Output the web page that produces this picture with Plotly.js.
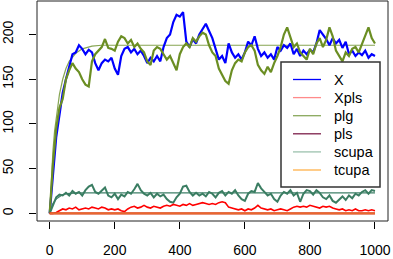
<!DOCTYPE html>
<html><head><meta charset="utf-8">
<script src="https://cdn.plot.ly/plotly-3.0.1.min.js"></script>
<style>html,body{margin:0;padding:0;background:#fff}#c{width:393px;height:259px}</style>
</head><body><div id="c"></div>
<script>
// time steps (sampled every 10)
const steps = [];
for (let i = 0; i <= 100; i++) steps.push(i * 10);

const X = [0,45,85,110,135,150,165,178,180,188,
 184,178,183,180,168,160,168,172,170,174,
 162,155,176,184,186,180,184,178,182,176,
 168,174,170,176,170,186,196,200,214,222,
 220,225,192,186,195,190,200,206,212,204,
 196,184,172,176,168,190,180,174,178,172,
 180,192,188,198,184,176,180,174,178,172,
 186,182,188,185,190,178,184,176,182,178,
 183,180,190,205,200,195,188,196,190,194,
 185,192,178,182,176,180,177,182,174,178,176];

const plg = [0,55,95,118,128,150,160,168,162,158,
 150,144,142,170,178,182,186,195,185,184,
 182,192,198,196,190,194,186,190,184,180,
 170,166,182,186,184,178,172,176,168,160,
 178,186,190,186,196,192,198,202,200,188,
 180,176,162,155,148,145,160,168,172,170,
 180,186,188,182,166,160,156,164,158,168,
 176,186,200,208,196,186,190,180,176,172,
 184,178,190,196,186,194,208,198,182,176,
 170,180,176,184,186,180,190,198,208,196,190];

const scupa = [0,10,18,21,20,23,20,25,22,24,
 20,26,30,32,24,22,26,29,20,18,
 22,16,21,19,24,22,27,33,26,22,
 20,23,18,22,19,21,16,13,12,18,
 22,30,31,24,20,23,20,22,19,24,
 22,18,23,25,20,24,22,26,20,16,
 14,22,25,24,34,28,24,20,22,16,
 13,20,24,22,26,20,23,13,22,26,
 25,21,26,23,18,16,20,14,12,16,
 19,15,20,17,22,20,24,26,22,26,25];

const Xpls = [0,0,1,3,5,4,6,5,7,4,
 5,6,5,7,6,5,7,6,4,5,
 4,5,3,2,5,7,8,6,7,9,
 7,6,8,7,6,8,9,8,10,9,
 8,10,9,11,9,10,11,12,11,10,
 11,10,12,13,12,7,6,5,4,5,
 3,5,4,6,9,6,5,4,5,3,
 4,5,4,3,5,7,8,7,8,7,
 9,8,7,6,8,7,8,6,5,4,
 5,3,4,3,5,3,3,4,3,4,3];

const pls = steps.map(() => 0);
const tcupa = steps.map(() => 0);

// smooth fitted curves
const fitX = [0,5,10,15,20,30,40,50,60,80,100,130,160,200,1000];
const fitPlg = [0,40,70,92,108,133,150,162,170,179,184,187,188,188,188];
const fitScX = [0,5,10,20,30,40,60,80,100,1000];
const fitScupa = [0,6,11,16,19,21,22.5,23,23,23];

const legendNames = ["X","Xpls","plg","pls","scupa","tcupa"];
const legendColors = ["#0000ff","#ff8a8a","#8aa85c","#7d1f4a","#9cc2ae","#ffb14a"];

const traces = [
  {x: fitX, y: fitPlg, mode:'lines', line:{color:'#86a552', width:1.2}, hoverinfo:'skip'},
  {x: fitScX, y: fitScupa, mode:'lines', line:{color:'#3f8068', width:1.2}, hoverinfo:'skip'},
  {x: steps, y: X, mode:'lines', line:{color:'#0000ff', width:2.2}},
  {x: steps, y: plg, mode:'lines', line:{color:'#6b8e23', width:2.2}},
  {x: steps, y: scupa, mode:'lines', line:{color:'#3a7d62', width:2}},
  {x: steps, y: Xpls, mode:'lines', line:{color:'#ff0000', width:1.6}},
  {x: steps, y: pls, mode:'lines', line:{color:'#d8402a', width:2.2}},
  {x: steps, y: tcupa, mode:'lines', line:{color:'#e8682c', width:1.6}}
];

// plot area in pixels
const L = 37, R = 388, T = 1, B = 221;
const px2x = p => (p - L) / (R - L);
const py2y = p => (B - p) / (B - T);

const shapes = [
  {type:'rect', xref:'paper', yref:'paper', x0:0, x1:1, y0:0, y1:1, line:{color:'#222', width:1}, layer:'above'},
  {type:'rect', xref:'paper', yref:'paper', x0:px2x(281), x1:px2x(380), y0:py2y(187), y1:py2y(62),
   line:{color:'#333', width:1.5}, fillcolor:'#ffffff', layer:'above'}
];
const annotations = [];
legendNames.forEach((n, i) => {
  const py = 79.5 + 18.1 * i;
  shapes.push({type:'line', xref:'paper', yref:'paper', x0:px2x(293), x1:px2x(321), y0:py2y(py), y1:py2y(py),
    line:{color:legendColors[i], width:1.3}, layer:'above'});
  annotations.push({xref:'paper', yref:'paper', x:px2x(332), y:py2y(py), text:n, showarrow:false,
    xanchor:'left', yanchor:'middle', font:{family:'Liberation Sans, Arial, sans-serif', size:14.5, color:'#000'}});
});

const layout = {
  width:393, height:259,
  margin:{l:L, r:393-R, t:T, b:259-B, pad:0},
  paper_bgcolor:'#fff', plot_bgcolor:'#fff',
  showlegend:false,
  font:{family:'Liberation Sans, Arial, sans-serif', size:14, color:'#000'},
  xaxis:{range:[-39,1040], tickvals:[0,200,400,600,800,1000], ticks:'outside', ticklen:7, tickcolor:'#000',
    showgrid:false, zeroline:false, showline:false, ticklabelstandoff:9},
  yaxis:{range:[-8.5,237.5], tickvals:[0,50,100,150,200], ticks:'outside', ticklen:7, tickcolor:'#000',
    tickangle:-90, showgrid:false, zeroline:false, showline:false, ticklabelstandoff:10},
  shapes:shapes, annotations:annotations
};
Plotly.newPlot('c', traces, layout, {staticPlot:true});
</script></body></html>
